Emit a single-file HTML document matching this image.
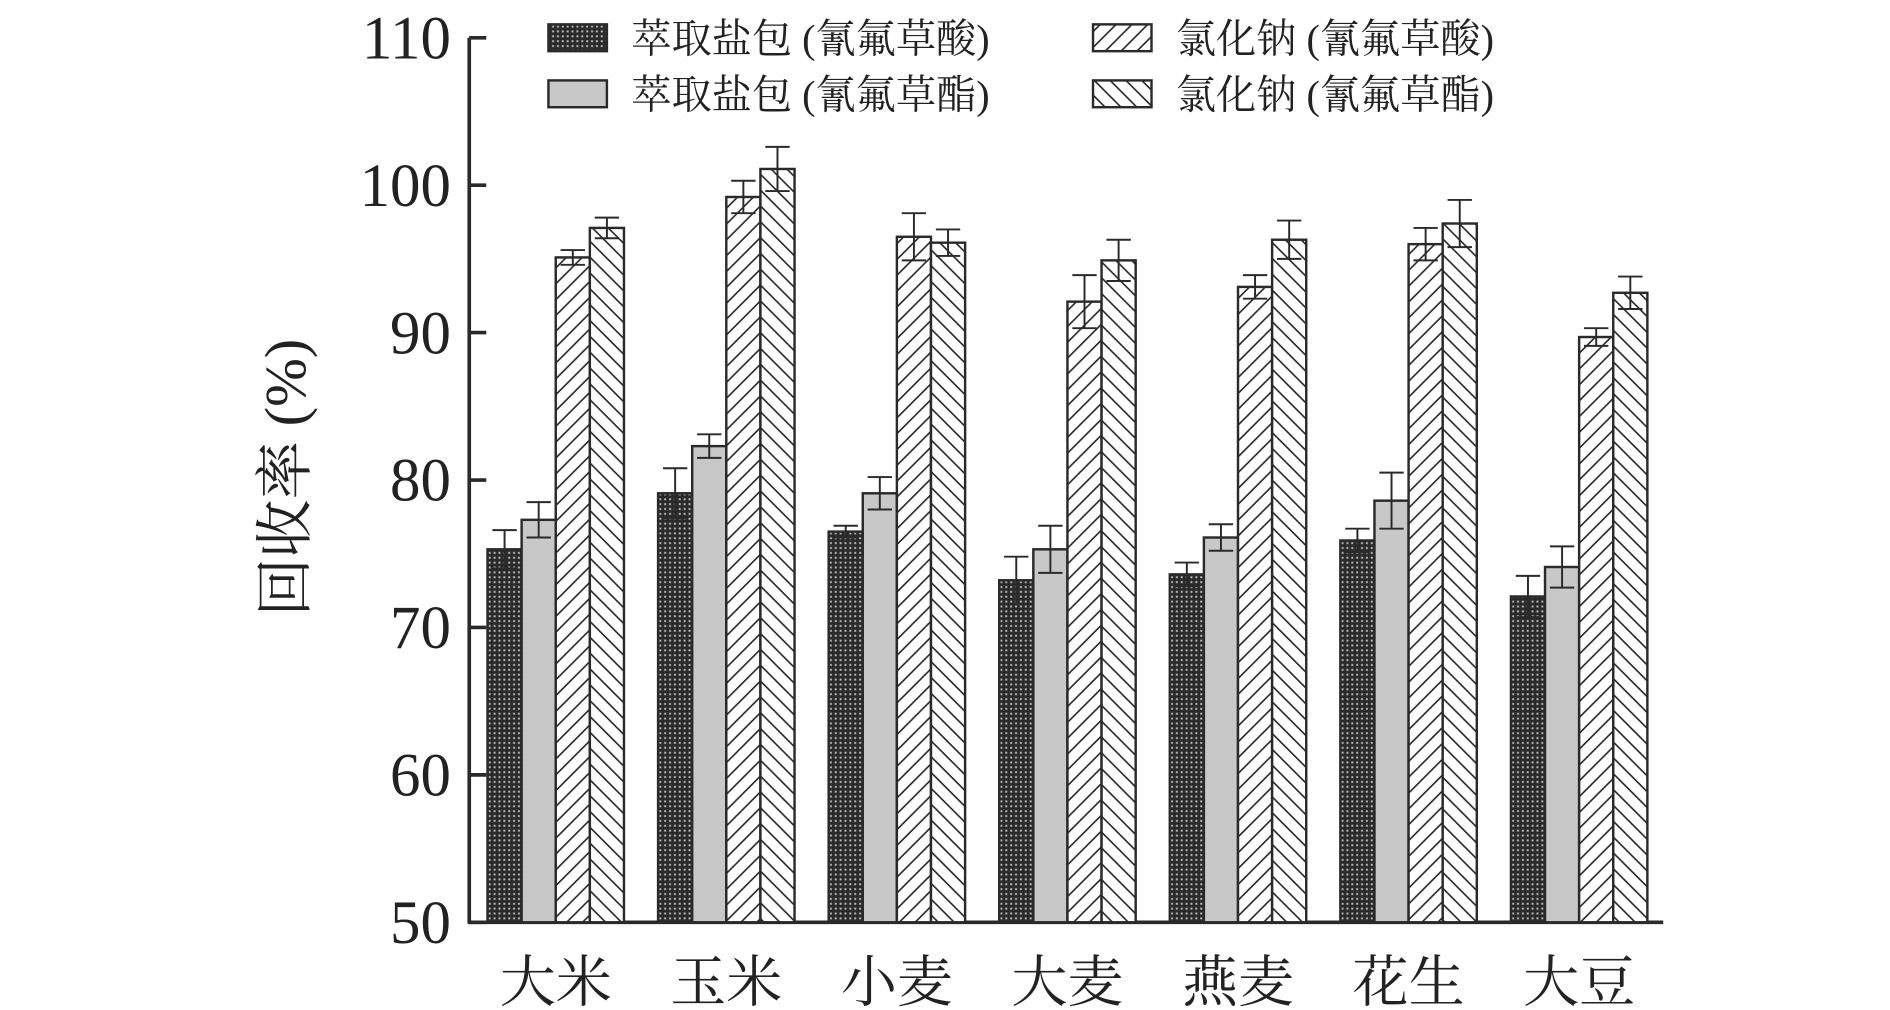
<!DOCTYPE html>
<html><head><meta charset="utf-8"><style>
html,body{margin:0;padding:0;background:#fff;}
svg{display:block;}
text{font-family:"Liberation Serif","Noto Serif CJK SC","Noto Sans CJK SC",serif;fill:#222;}
</style></head><body>
<svg id="chart" width="1890" height="1010" viewBox="0 0 1551 829" xmlns="http://www.w3.org/2000/svg">
<defs>
<pattern id="pDark" width="4" height="4" patternUnits="userSpaceOnUse">
<rect width="4" height="4" fill="#2a2a2a"/><rect x="1" y="1" width="1.6" height="1.6" fill="#bbb"/>
</pattern>
<pattern id="pFwd" width="13" height="13" patternUnits="userSpaceOnUse">
<rect width="13" height="13" fill="#fff"/><path d="M-2,15 L15,-2 M-2,2 L2,-2 M11,15 L15,11" stroke="#222" stroke-width="1.3"/>
</pattern>
<pattern id="pBack" width="13" height="13" patternUnits="userSpaceOnUse">
<rect width="13" height="13" fill="#fff"/><path d="M-2,-2 L15,15 M11,-2 L15,2 M-2,11 L2,15" stroke="#222" stroke-width="1.3"/>
</pattern>
</defs>
<g id="axes"></g>
<g id="bars"></g>
<g id="legend"></g>
</svg>
<script>
const categories = ["大米","玉米","小麦","大麦","燕麦","花生","大豆"];
const seriesNames = ["萃取盐包 (氰氟草酸)","萃取盐包 (氰氟草酯)","氯化钠 (氰氟草酸)","氯化钠 (氰氟草酯)"];
const saltAcid = [75.3,79.1,76.5,73.2,73.6,75.9,72.1];
const saltAcidErr = [1.3,1.7,0.4,1.6,0.8,0.8,1.4];
const saltEster = [77.3,82.3,79.1,75.3,76.1,78.6,74.1];
const saltEsterErr = [1.2,0.8,1.1,1.6,0.9,1.9,1.4];
const naclAcid = [95.1,99.2,96.5,92.1,93.1,96.0,89.7];
const naclAcidErr = [0.5,1.1,1.6,1.8,0.8,1.1,0.6];
const naclEster = [97.1,101.1,96.1,94.9,96.3,97.4,92.7];
const naclEsterErr = [0.7,1.5,0.9,1.4,1.3,1.6,1.1];
const yTicks = [50,60,70,80,90,100,110];

const NS="http://www.w3.org/2000/svg";
const X0=385, X1=1365, Ytop=31, Ybot=757, YMIN=50, YMAX=110;
function yScale(v){return Ybot-(v-YMIN)/(YMAX-YMIN)*(Ybot-Ytop);}
const groupStart=400, groupStep=140, barW=28;
function xScale(ci,si){return groupStart+ci*groupStep+si*barW;}
function mk(tag,attrs,parent){const e=document.createElementNS(NS,tag);for(const k in attrs)e.setAttribute(k,attrs[k]);parent.appendChild(e);return e;}

const axes=document.getElementById('axes');
let a=mk('line',{x1:X0,y1:Ytop,x2:X0,y2:Ybot+1,stroke:'#2a2a2a','stroke-width':3},axes);


a=mk('line',{x1:X0-1,y1:Ybot,x2:X1,y2:Ybot,stroke:'#2a2a2a','stroke-width':3},axes);


yTicks.forEach(t=>{
  const y=yScale(t);
  const l=mk('line',{x1:X0,y1:y,x2:X0+14,y2:y,stroke:'#2a2a2a','stroke-width':3},axes);
  
  
  const tx=mk('text',{x:370,y:y+17,'text-anchor':'end','font-size':50},axes);
  tx.textContent=t;
  
  
});
const yt=mk('text',{x:0,y:0,'text-anchor':'middle','font-size':48,transform:'translate(250,392) rotate(-90)'},axes);
yt.textContent='回收率 (%)';


categories.forEach((c,i)=>{
  const tx=mk('text',{x:xScale(i,2),y:822,'text-anchor':'middle','font-size':46},axes);
  tx.textContent=c;
  
  
});

const fills=['url(#pDark)','#c8c8c8','url(#pFwd)','url(#pBack)'];
const vals=[saltAcid,saltEster,naclAcid,naclEster];
const errs=[saltAcidErr,saltEsterErr,naclAcidErr,naclEsterErr];
const bars=document.getElementById('bars');
vals.forEach((arr,si)=>{
  arr.forEach((v,ci)=>{
    const x=xScale(ci,si), y=yScale(v);
    const r=mk('rect',{x:x,y:y,width:barW,height:Ybot-y,fill:fills[si],stroke:'#2a2a2a','stroke-width':2},bars);
    
    
    const e=errs[si][ci], cx=x+barW/2, yh=yScale(v+e), yl=yScale(v-e);
    const eb=mk('path',{d:`M${cx},${yh}V${yl}M${cx-10},${yh}H${cx+10}M${cx-10},${yl}H${cx+10}`,stroke:'#2a2a2a','stroke-width':1.6,fill:'none'},bars);
    
    
  });
});

const leg=document.getElementById('legend');
const lpos=[[450,31],[450,77],[897,31],[897,77]];
seriesNames.forEach((n,i)=>{
  const [lx,ly]=lpos[i];
  const b=mk('rect',{x:lx,y:ly-11,width:48,height:22,fill:fills[i],stroke:'#2a2a2a','stroke-width':2},leg);
  
  
  const t=mk('text',{x:lx+68,y:ly+12,'font-size':33},leg);
  t.textContent=n;
  
  
});
</script>
</body></html>
